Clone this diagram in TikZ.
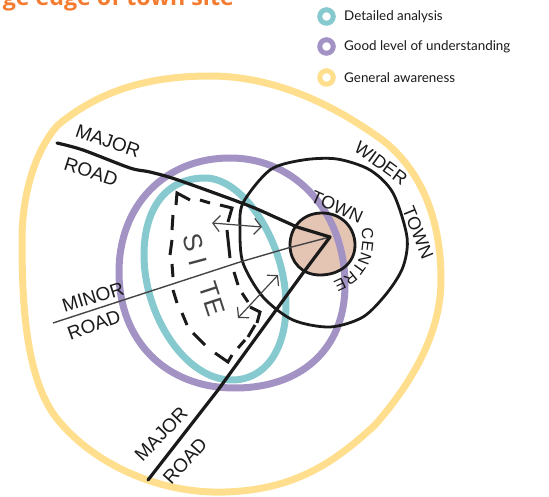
\documentclass[tikz,border=0pt]{standalone}
\usepackage{fontspec}
\setmainfont{Lato}
\newfontfamily\titlefont{Open Sans}
\newfontfamily\handfont{Liberation Sans}
\usetikzlibrary{arrows.meta,decorations.text}
\definecolor{ylw}{HTML}{FFDF8E}
\definecolor{prp}{HTML}{A392C4}
\definecolor{tea}{HTML}{86C9CE}
\definecolor{tc}{HTML}{E4C5B3}
\definecolor{org}{HTML}{F47C30}
\definecolor{ink}{HTML}{1A1A1A}
\definecolor{soft}{HTML}{444444}
\tikzset{
  ringline/.style={line width=7pt,line join=round},
  legring/.style={circle,draw,line width=5pt,fill=white,minimum size=13.5pt,inner sep=0pt},
  legtext/.style={anchor=west,font=\fontsize{13.4}{15}\selectfont,text=ink,inner sep=0pt},
  roadline/.style={ink,line width=3.2pt,line join=round,line cap=round},
  outline/.style={ink,line width=2.8pt},
  sitedash/.style={ink,line width=3pt,line join=miter},
  hand/.style={font=\handfont\fontsize{19}{20}\selectfont,text=ink,inner sep=0pt},
  handsmall/.style={font=\handfont\fontsize{18}{20}\selectfont,text=ink,inner sep=0pt},
  sitetext/.style={font=\handfont\fontsize{26}{26}\selectfont,text=soft,inner sep=0pt},
  twoway/.style={soft,line width=1.2pt,{Straight Barb[length=7pt,width=16pt]}-{Straight Barb[length=7pt,width=16pt]}},
}
\begin{document}
\begin{tikzpicture}[x=1pt,y=-1pt]
\useasboundingbox (0,0) rectangle (549,497);
% title, cut by the page edge
\node[anchor=base east,font=\titlefont\bfseries\fontsize{23.2}{24}\selectfont,text=org,inner sep=0pt] (title) at (234,6) {ge edge of town site};
% legend
\node[legring,draw=tea] (l1) at (326.5,16.5) {};
\node[legring,draw=prp] (l2) at (326.5,46.5) {};
\node[legring,draw=ylw] (l3) at (326.5,77.5) {};
\node[legtext] (t1) at (344,17) {Detailed analysis};
\node[legtext] (t2) at (344,47) {Good level of understanding};
\node[legtext] (t3) at (344,78) {General awareness};
% general awareness
\draw[ringline,draw=ylw] (210,76) .. controls (275,76) and (335,105) .. (385,142) .. controls (425,175) and (441,225) .. (441,280) .. controls (441,335) and (410,385) .. (375,425) .. controls (335,462) and (295,490) .. (225,492) .. controls (160,494) and (95,465) .. (58,420) .. controls (25,380) and (22,300) .. (22,240) .. controls (22,195) and (35,150) .. (58,125) .. controls (100,90) and (150,76) .. (210,76) -- cycle;
% town centre fill
\fill[tc] (322,213) .. controls (342,213) and (355,228) .. (355,245) .. controls (355,263) and (340,275) .. (320,275) .. controls (302,275) and (290,262) .. (290,245) .. controls (290,228) and (302,213) .. (322,213) -- cycle;
% understanding and analysis
\draw[ringline,draw=prp] (230,158) .. controls (298,158) and (345,215) .. (345,285) .. controls (345,350) and (300,388) .. (235,388) .. controls (165,388) and (119,340) .. (119,272) .. controls (119,205) and (165,158) .. (230,158) -- cycle;
\draw[ringline,draw=tea] (205,178) .. controls (245,178) and (286,245) .. (286,305) .. controls (286,350) and (265,380) .. (232,380) .. controls (185,380) and (144,315) .. (144,255) .. controls (144,210) and (165,178) .. (205,178) -- cycle;
% town centre outline
\draw[outline] (322,213) .. controls (342,213) and (355,228) .. (355,245) .. controls (355,263) and (340,275) .. (320,275) .. controls (302,275) and (290,262) .. (290,245) .. controls (290,228) and (302,213) .. (322,213) -- cycle;
% site
\draw[sitedash] (190,200)--(177,193)--(176,205);
\draw[sitedash] (173,215)--(172,230);
\draw[sitedash] (172,240)--(170,255);
\draw[sitedash] (172,264)--(173,277);
\draw[sitedash] (173,290)--(177,303);
\draw[sitedash] (182,313)--(187,325);
\draw[sitedash] (193,333)--(205,345);
\draw[sitedash] (215,353)--(228,362)--(232,355);
\draw[sitedash] (238,348)--(245,340);
\draw[sitedash] (248,337)--(255,325);
\draw[sitedash] (257,323)--(260,312)--(250,307);
\draw[sitedash] (248,302)--(242,293);
\draw[sitedash] (238,285)--(234,272);
\draw[sitedash] (230,258)--(227,230);
\draw[sitedash] (228,222)--(232,208)--(220,205);
\draw[sitedash] (210,203)--(200,200);
% wider town
\draw[outline] plot[smooth cycle] coordinates {(243,203)(270,170)(303,160)(337,159)(370,170)(393,193)(407,237)(403,267)(387,293)(363,317)(330,327)(293,320)(263,297)(243,263)(240,230)};
% roads
\coordinate (hub) at (330,237);
\coordinate (majA) at (57,143);
\coordinate (majB) at (148,480);
\coordinate (minA) at (53,323);
\draw[soft,line width=1.4pt] (hub)--(288,248)--(240,262)--(minA);
\draw[roadline] plot[smooth] coordinates {(majA)(83,150)(130,168)(150,172)(178,180)(247,205)(277,218)(297,227)} -- (hub) -- (303,273) -- (218,390) -- (majB);
% arrows
\coordinate (a1) at (212,223); \coordinate (a2) at (262,227);
\coordinate (b1) at (278,275); \coordinate (b2) at (238,318);
\draw[twoway] (a1)--(a2);
\draw[twoway] (b1)--(b2);
% labels
\node[hand,rotate=-19] (n1) at (108,141) {MAJOR};
\node[hand,rotate=-18] (n2) at (91,172) {ROAD};
\node[hand,rotate=17] (n3) at (93,297) {MINOR};
\node[hand,rotate=20] (n4) at (94,325) {ROAD};
\node[hand,rotate=46] (n5) at (161,434) {MAJOR};
\node[hand,rotate=48] (n6) at (185,461) {ROAD};
\node[handsmall,rotate=-36] (n7) at (381,163) {WIDER};
\node[handsmall,rotate=-68] (n8) at (418,233) {TOWN};
\node[handsmall,rotate=-24] (n9) at (337,207) {TOWN};
\path[decorate,decoration={text along path,text align={left},text={|\handfont\fontsize{16}{16}\selectfont\color{ink}|CENTRE}}] (361,229) .. controls (366,250) and (358,280) .. (318,285);
\node[sitetext,rotate=-75] (n11) at (195,250) {S I};
\node[sitetext,rotate=-72] (n12) at (212,299) {TE};
\end{tikzpicture}
\end{document}
